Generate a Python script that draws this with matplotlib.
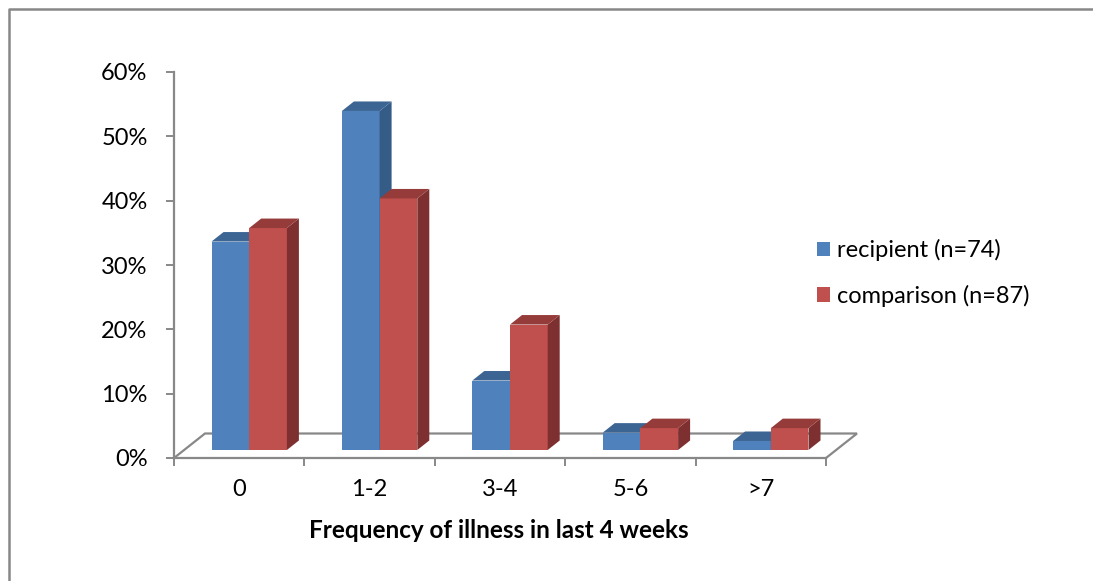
import matplotlib
matplotlib.use("Agg")
import matplotlib.pyplot as plt
from matplotlib.patches import Polygon, Rectangle

plt.rcParams['font.family'] = ['Lato', 'DejaVu Sans']

# illness frequency, share of each group (%)
categories = ['0', '1-2', '3-4', '5-6', '>7']
recipient = [32.4, 52.7, 10.8, 2.7, 1.4]
comparison = [34.5, 39.1, 19.5, 3.4, 3.4]
series_labels = ['recipient (n=74)', 'comparison (n=87)']
y_ticks = [0, 10, 20, 30, 40, 50, 60]
x_title = 'Frequency of illness in last 4 weeks'

W, H, DPI = 1093, 581, 100
fig = plt.figure(figsize=(W / DPI, H / DPI), dpi=DPI)

# plot area in pixels: x 174..826, y 72 (60%) .. 458 (0%)
px_l, px_r, px_t, px_b = 174, 826, 72, 458
ax = fig.add_axes([px_l / W, 1 - px_b / H, (px_r - px_l) / W, (px_b - px_t) / H])
ax.set_xlim(0, len(categories))
ax.set_ylim(0, 60)

ux = (px_r - px_l) / len(categories)   # px per category
uy = (px_b - px_t) / 60.0              # px per percent

# 3d look: floor depth, bar plane offset and bar depth (pixels -> data)
floor_dx, floor_dy = 31 / ux, 24.5 / uy
off_dx, off_dy = 10 / ux, 8 / uy
bar_dx, bar_dy = 12 / ux, 9.5 / uy
w = 37.7 / ux

grey = '#888888'
blue = ('#4F81BD', '#3C6594', '#355B87')
red = ('#C0504D', '#953C3A', '#7D302F')
fs = 17

# floor outline
ax.plot([0, floor_dx, len(categories) + floor_dx, len(categories)],
        [0, floor_dy, floor_dy, 0], color=grey, lw=1.6, clip_on=False,
        solid_joinstyle='miter', zorder=1)


def box(x0, v, cols, z):
    y0 = off_dy
    ax.bar(x0, v, width=w, bottom=y0, align='edge', color=cols[0],
           edgecolor='none', zorder=z, clip_on=False)
    top = [(x0, y0 + v), (x0 + w, y0 + v), (x0 + w + bar_dx, y0 + v + bar_dy),
           (x0 + bar_dx, y0 + v + bar_dy)]
    side = [(x0 + w, y0), (x0 + w + bar_dx, y0 + bar_dy),
            (x0 + w + bar_dx, y0 + v + bar_dy), (x0 + w, y0 + v)]
    ax.add_patch(Polygon(side, closed=True, fc=cols[2], ec='none', zorder=z, clip_on=False))
    ax.add_patch(Polygon(top, closed=True, fc=cols[1], ec='none', zorder=z, clip_on=False))


for i in range(len(categories)):
    c = i + 0.5 + off_dx
    box(c - w, recipient[i], blue, 3 + 2 * i)
    box(c, comparison[i], red, 4 + 2 * i)

for s in ['top', 'right']:
    ax.spines[s].set_visible(False)
for s in ['left', 'bottom']:
    ax.spines[s].set_color(grey)
    ax.spines[s].set_linewidth(1.6)

ax.set_yticks(y_ticks)
ax.set_yticklabels([f'{t}%' for t in y_ticks], fontsize=fs)
ax.tick_params(axis='y', length=6, width=1.4, color=grey, pad=13)

ax.set_xticks([i + 0.5 for i in range(len(categories))])
ax.set_xticklabels(categories, fontsize=fs)
ax.set_xticks(range(len(categories) + 1), minor=True)
ax.tick_params(axis='x', which='major', length=0, pad=15)
ax.tick_params(axis='x', which='minor', length=6, width=1.4, color=grey)

fig.text(499 / W, 1 - 531 / H, x_title, fontsize=fs + 0.5, fontweight='bold',
         ha='center', va='center')

handles = [Rectangle((0, 0), 1, 1, fc=blue[0]), Rectangle((0, 0), 1, 1, fc=red[0])]
fig.legend(handles, series_labels, loc='center left',
           bbox_to_anchor=(805 / W, 1 - 273 / H), frameon=False, fontsize=fs,
           handlelength=0.55, handleheight=0.55, handletextpad=0.3,
           labelspacing=1.0, borderpad=0)

# chart border
fig.add_artist(plt.Line2D([8.5 / W, 8.5 / W, 1.0], [0.0, 1 - 9 / H, 1 - 9 / H],
                          color=grey, lw=1.8, transform=fig.transFigure))

fig.savefig('out.png', dpi=DPI, facecolor='white')
